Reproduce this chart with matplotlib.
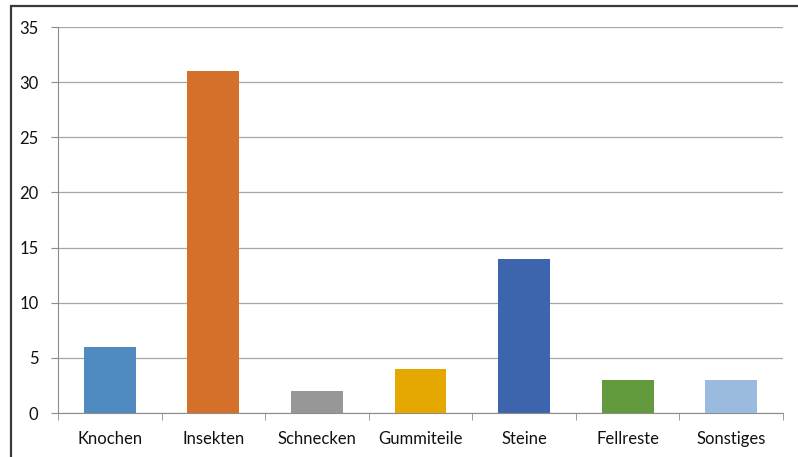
import matplotlib
matplotlib.use("Agg")
import matplotlib.pyplot as plt
from matplotlib.patches import Rectangle

categories = ["Knochen", "Insekten", "Schnecken", "Gummiteile", "Steine", "Fellreste", "Sonstiges"]
values = [6, 31, 2, 4, 14, 3, 3]
colors = ["#4F8AC0", "#D5702B", "#979797", "#E4A800", "#3D65AE", "#629A3D", "#9ABAE0"]
yticks = [0, 5, 10, 15, 20, 25, 30, 35]

plt.rcParams['font.family'] = ['Lato', 'DejaVu Sans']

W, H = 798, 457
fig = plt.figure(figsize=(W/100, H/100), dpi=100)
fig.patch.set_facecolor("white")

# outer frame (left and top visible)
fig.add_artist(Rectangle((10.5/W, -0.1), 1.2, (H-6.5)/H + 0.1, transform=fig.transFigure,
                         fill=False, edgecolor="#3a3a3a", linewidth=1.6))

ax = fig.add_axes([58/W, (H-413)/H, (783-58)/W, (413-27)/H])
x = list(range(len(categories)))
ax.bar(x, values, width=0.5, color=colors, zorder=3)
ax.set_xlim(-0.5, len(categories)-0.5)
ax.set_ylim(0, 35)
ax.set_yticks(yticks)
ax.set_yticklabels([str(v) for v in yticks], fontsize=12, color="#111111")
ax.set_xticks(x)
ax.set_xticklabels(categories, fontsize=12, color="#111111")
ax.tick_params(axis='x', length=0, pad=13)
# category boundary ticks
ax.set_xticks([i - 0.5 for i in range(len(categories)+1)], minor=True)
ax.tick_params(axis='x', which='minor', length=5, color="#8c8c8c", direction='out')
ax.tick_params(axis='y', length=5, color="#8c8c8c", pad=9)
ax.grid(axis='y', color="#a6a6a6", linewidth=0.9, zorder=0)
for s in ["top", "right"]:
    ax.spines[s].set_visible(False)
ax.spines["left"].set_color("#8c8c8c")
ax.spines["bottom"].set_color("#8c8c8c")

fig.savefig("out.png", dpi=100)
